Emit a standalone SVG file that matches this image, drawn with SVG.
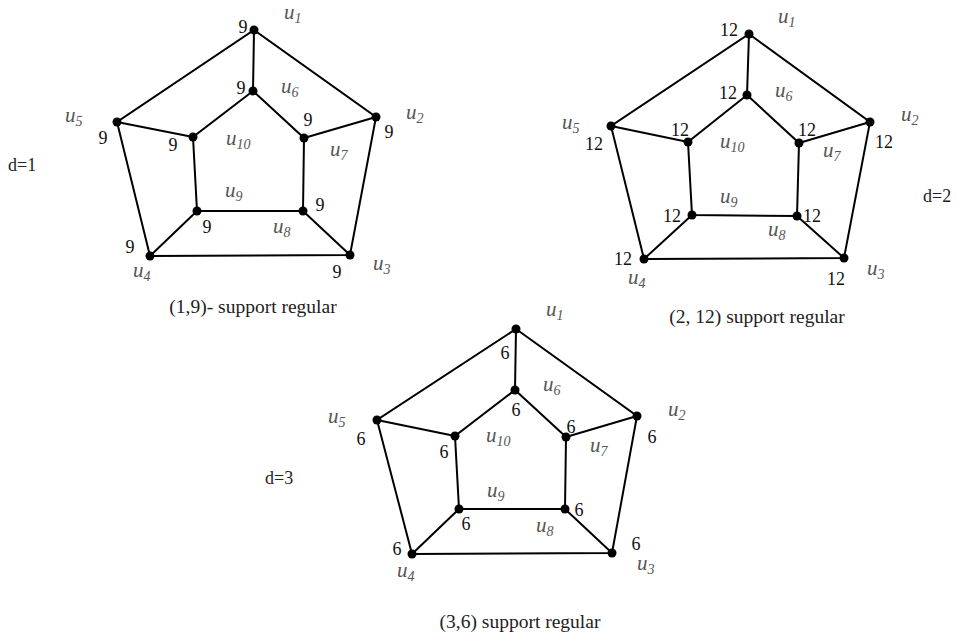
<svg xmlns="http://www.w3.org/2000/svg" width="957" height="637" viewBox="0 0 957 637">
<style>
.e{stroke:#000;stroke-width:2;fill:none;stroke-linecap:round}
.n{fill:#000}
.num{font-family:"Liberation Serif",serif;font-size:18px;fill:#111;text-anchor:middle}
.lab{font-family:"Liberation Serif",serif;font-size:21px;font-style:italic;fill:#555}
.sub{font-size:14px}
.cap{font-family:"Liberation Serif",serif;font-size:19.5px;fill:#222;text-anchor:middle}
.d{font-family:"Liberation Serif",serif;font-size:18px;fill:#222}
</style>
<rect width="957" height="637" fill="#fff"/>

<!-- Graph 1 (d=1) -->
<g id="g1-edges">
<polygon class="e" points="254,30 376,117 350,255 150,256 117,122"/>
<polygon class="e" points="253,91 304,138 303,211 197,211 193,137"/>
<line class="e" x1="254" y1="30" x2="253" y2="91"/>
<line class="e" x1="376" y1="117" x2="304" y2="138"/>
<line class="e" x1="350" y1="255" x2="303" y2="211"/>
<line class="e" x1="150" y1="256" x2="197" y2="211"/>
<line class="e" x1="117" y1="122" x2="193" y2="137"/>
</g>
<g id="g1-u1"><circle class="n" cx="254" cy="30" r="4.5"/><text class="num" x="243" y="33">9</text><text class="lab" x="284" y="19">u<tspan class="sub" dy="4">1</tspan></text></g>
<g id="g1-u2"><circle class="n" cx="376" cy="117" r="4.5"/><text class="num" x="389" y="138">9</text><text class="lab" x="406" y="119">u<tspan class="sub" dy="4">2</tspan></text></g>
<g id="g1-u3"><circle class="n" cx="350" cy="255" r="4.5"/><text class="num" x="337" y="278">9</text><text class="lab" x="373" y="270">u<tspan class="sub" dy="4">3</tspan></text></g>
<g id="g1-u4"><circle class="n" cx="150" cy="256" r="4.5"/><text class="num" x="130" y="253">9</text><text class="lab" x="133" y="277">u<tspan class="sub" dy="4">4</tspan></text></g>
<g id="g1-u5"><circle class="n" cx="117" cy="122" r="4.5"/><text class="num" x="103" y="144">9</text><text class="lab" x="65" y="122">u<tspan class="sub" dy="4">5</tspan></text></g>
<g id="g1-u6"><circle class="n" cx="253" cy="91" r="4.5"/><text class="num" x="241" y="94">9</text><text class="lab" x="281" y="93">u<tspan class="sub" dy="4">6</tspan></text></g>
<g id="g1-u7"><circle class="n" cx="304" cy="138" r="4.5"/><text class="num" x="308" y="126">9</text><text class="lab" x="330" y="156">u<tspan class="sub" dy="4">7</tspan></text></g>
<g id="g1-u8"><circle class="n" cx="303" cy="211" r="4.5"/><text class="num" x="320" y="211">9</text><text class="lab" x="273" y="233">u<tspan class="sub" dy="4">8</tspan></text></g>
<g id="g1-u9"><circle class="n" cx="197" cy="211" r="4.5"/><text class="num" x="207" y="233">9</text><text class="lab" x="225" y="197">u<tspan class="sub" dy="4">9</tspan></text></g>
<g id="g1-u10"><circle class="n" cx="193" cy="137" r="4.5"/><text class="num" x="173" y="151">9</text><text class="lab" x="226" y="145">u<tspan class="sub" dy="4">10</tspan></text></g>
<text class="cap" x="253" y="313">(1,9)- support regular</text>
<text class="d" x="8" y="171">d=1</text>

<!-- Graph 2 (d=2) -->
<g id="g2-edges">
<polygon class="e" points="749,34 870,122 844,258 644,259 611,126"/>
<polygon class="e" points="747,95 799,143 797,216 692,215 688,142"/>
<line class="e" x1="749" y1="34" x2="747" y2="95"/>
<line class="e" x1="870" y1="122" x2="799" y2="143"/>
<line class="e" x1="844" y1="258" x2="797" y2="216"/>
<line class="e" x1="644" y1="259" x2="692" y2="215"/>
<line class="e" x1="611" y1="126" x2="688" y2="142"/>
</g>
<g id="g2-u1"><circle class="n" cx="749" cy="34" r="4.5"/><text class="num" x="729" y="36">12</text><text class="lab" x="778" y="23">u<tspan class="sub" dy="4">1</tspan></text></g>
<g id="g2-u2"><circle class="n" cx="870" cy="122" r="4.5"/><text class="num" x="884" y="148">12</text><text class="lab" x="901" y="121">u<tspan class="sub" dy="4">2</tspan></text></g>
<g id="g2-u3"><circle class="n" cx="844" cy="258" r="4.5"/><text class="num" x="836" y="285">12</text><text class="lab" x="867" y="275">u<tspan class="sub" dy="4">3</tspan></text></g>
<g id="g2-u4"><circle class="n" cx="644" cy="259" r="4.5"/><text class="num" x="623" y="265">12</text><text class="lab" x="628" y="284">u<tspan class="sub" dy="4">4</tspan></text></g>
<g id="g2-u5"><circle class="n" cx="611" cy="126" r="4.5"/><text class="num" x="594" y="150">12</text><text class="lab" x="562" y="129">u<tspan class="sub" dy="4">5</tspan></text></g>
<g id="g2-u6"><circle class="n" cx="747" cy="95" r="4.5"/><text class="num" x="728" y="99">12</text><text class="lab" x="775" y="97">u<tspan class="sub" dy="4">6</tspan></text></g>
<g id="g2-u7"><circle class="n" cx="799" cy="143" r="4.5"/><text class="num" x="807" y="136">12</text><text class="lab" x="823" y="157">u<tspan class="sub" dy="4">7</tspan></text></g>
<g id="g2-u8"><circle class="n" cx="797" cy="216" r="4.5"/><text class="num" x="812" y="222">12</text><text class="lab" x="768" y="236">u<tspan class="sub" dy="4">8</tspan></text></g>
<g id="g2-u9"><circle class="n" cx="692" cy="215" r="4.5"/><text class="num" x="672" y="222">12</text><text class="lab" x="720" y="203">u<tspan class="sub" dy="4">9</tspan></text></g>
<g id="g2-u10"><circle class="n" cx="688" cy="142" r="4.5"/><text class="num" x="680" y="136">12</text><text class="lab" x="720" y="148">u<tspan class="sub" dy="4">10</tspan></text></g>
<text class="cap" x="757" y="323">(2, 12) support regular</text>
<text class="d" x="923" y="202">d=2</text>

<!-- Graph 3 (d=3) -->
<g id="g3-edges">
<polygon class="e" points="516,329 637,416 612,553 412,554 377,420"/>
<polygon class="e" points="515,390 566,437 565,509 459,509 455,436"/>
<line class="e" x1="516" y1="329" x2="515" y2="390"/>
<line class="e" x1="637" y1="416" x2="566" y2="437"/>
<line class="e" x1="612" y1="553" x2="565" y2="509"/>
<line class="e" x1="412" y1="554" x2="459" y2="509"/>
<line class="e" x1="377" y1="420" x2="455" y2="436"/>
</g>
<g id="g3-u1"><circle class="n" cx="516" cy="329" r="4.5"/><text class="num" x="505" y="359">6</text><text class="lab" x="546" y="316">u<tspan class="sub" dy="4">1</tspan></text></g>
<g id="g3-u2"><circle class="n" cx="637" cy="416" r="4.5"/><text class="num" x="652" y="443">6</text><text class="lab" x="668" y="416">u<tspan class="sub" dy="4">2</tspan></text></g>
<g id="g3-u3"><circle class="n" cx="612" cy="553" r="4.5"/><text class="num" x="636" y="550">6</text><text class="lab" x="637" y="570">u<tspan class="sub" dy="4">3</tspan></text></g>
<g id="g3-u4"><circle class="n" cx="412" cy="554" r="4.5"/><text class="num" x="397" y="555">6</text><text class="lab" x="397" y="577">u<tspan class="sub" dy="4">4</tspan></text></g>
<g id="g3-u5"><circle class="n" cx="377" cy="420" r="4.5"/><text class="num" x="361" y="445">6</text><text class="lab" x="328" y="423">u<tspan class="sub" dy="4">5</tspan></text></g>
<g id="g3-u6"><circle class="n" cx="515" cy="390" r="4.5"/><text class="num" x="516" y="416">6</text><text class="lab" x="543" y="391">u<tspan class="sub" dy="4">6</tspan></text></g>
<g id="g3-u7"><circle class="n" cx="566" cy="437" r="4.5"/><text class="num" x="571" y="433">6</text><text class="lab" x="590" y="452">u<tspan class="sub" dy="4">7</tspan></text></g>
<g id="g3-u8"><circle class="n" cx="565" cy="509" r="4.5"/><text class="num" x="579" y="516">6</text><text class="lab" x="536" y="532">u<tspan class="sub" dy="4">8</tspan></text></g>
<g id="g3-u9"><circle class="n" cx="459" cy="509" r="4.5"/><text class="num" x="466" y="530">6</text><text class="lab" x="487" y="497">u<tspan class="sub" dy="4">9</tspan></text></g>
<g id="g3-u10"><circle class="n" cx="455" cy="436" r="4.5"/><text class="num" x="444" y="458">6</text><text class="lab" x="486" y="442">u<tspan class="sub" dy="4">10</tspan></text></g>
<text class="cap" x="520" y="628">(3,6) support regular</text>
<text class="d" x="265" y="484">d=3</text>
</svg>
